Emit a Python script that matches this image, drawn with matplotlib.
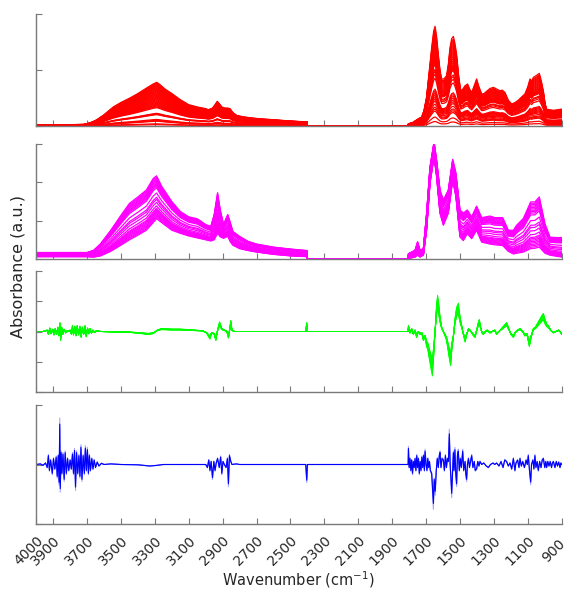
import numpy as np
import matplotlib
matplotlib.use("Agg")
import matplotlib.pyplot as plt
from matplotlib.transforms import ScaledTranslation

# ---------------- data ----------------
x_ticks = [4000, 3900, 3700, 3500, 3300, 3100, 2900, 2700, 2500, 2300, 2100, 1900, 1700, 1500, 1300, 1100, 900]
x_ticklabels = [str(t) for t in x_ticks]

# Panel 1: raw absorbance, highest spectrum (template) + per-sample relative intensities
red_wn = [4000, 3900, 3800, 3720, 3700, 3670, 3643, 3600, 3545, 3500, 3447, 3400, 3348, 3310, 3289, 3270,
          3240, 3200, 3150, 3100, 3050, 3000, 2985, 2960, 2945, 2932, 2920, 2905, 2887, 2870, 2857, 2840,
          2818, 2780, 2720, 2660, 2600, 2550, 2500, 2450, 2402, 2400, 1806, 1804, 1780, 1760, 1740, 1726,
          1712, 1697, 1682, 1667, 1655, 1647, 1638, 1628, 1618, 1608, 1595, 1579, 1568, 1559, 1549, 1539,
          1530, 1520, 1508, 1496, 1483, 1470, 1455, 1443, 1431, 1416, 1402, 1388, 1372, 1358, 1343, 1323,
          1303, 1284, 1264, 1250, 1235, 1215, 1195, 1175, 1156, 1136, 1117, 1100, 1087, 1077, 1067, 1050,
          1032, 1020, 1008, 998, 989, 970, 949, 925, 904, 900]
red_top = [0.012, 0.012, 0.012, 0.014, 0.02, 0.035, 0.055, 0.10, 0.17, 0.21, 0.25, 0.29, 0.34, 0.375, 0.39, 0.37,
           0.33, 0.29, 0.235, 0.19, 0.17, 0.155, 0.145, 0.16, 0.19, 0.22, 0.20, 0.17, 0.16, 0.16, 0.155, 0.12,
           0.095, 0.082, 0.07, 0.062, 0.056, 0.05, 0.045, 0.04, 0.038, 0.0, 0.0, 0.02, 0.03, 0.05, 0.07, 0.08,
           0.14, 0.26, 0.48, 0.70, 0.85, 0.89, 0.80, 0.64, 0.50, 0.42, 0.42, 0.45, 0.56, 0.70, 0.78, 0.80,
           0.74, 0.64, 0.45, 0.315, 0.33, 0.36, 0.375, 0.33, 0.30, 0.36, 0.42, 0.35, 0.286, 0.29, 0.31, 0.335,
           0.345, 0.33, 0.315, 0.32, 0.30, 0.23, 0.196, 0.21, 0.23, 0.26, 0.286, 0.35, 0.42, 0.40, 0.435, 0.45,
           0.47, 0.40, 0.31, 0.20, 0.15, 0.145, 0.14, 0.145, 0.15, 0.15]
red_rel_oh = [1.00, 0.98, 0.96, 0.94, 0.92, 0.90, 0.88, 0.86, 0.84, 0.82, 0.80, 0.78, 0.76, 0.74, 0.72, 0.70,
              0.68, 0.66, 0.64, 0.62, 0.60, 0.58, 0.56, 0.54, 0.52, 0.50, 0.48, 0.46, 0.44, 0.42,
              0.29, 0.28, 0.27, 0.26, 0.15, 0.13, 0.12, 0.11, 0.05, 0.03]
red_rel_fp = [1.00, 0.97, 0.95, 0.93, 0.91, 0.89, 0.87, 0.85, 0.83, 0.81, 0.79, 0.77, 0.75, 0.73, 0.71, 0.70,
              0.68, 0.67, 0.66, 0.65, 0.64, 0.63, 0.62, 0.57, 0.55, 0.52, 0.48, 0.37, 0.35, 0.33,
              0.31, 0.29, 0.27, 0.25, 0.22, 0.19, 0.17, 0.15, 0.09, 0.045]

# Panel 2: normalised spectra, upper and lower envelope + per-sample position inside the band
mag_wn = [4000, 3700, 3660, 3620, 3560, 3500, 3450, 3400, 3350, 3310, 3290, 3260, 3200, 3150, 3100, 3050,
          3000, 2970, 2950, 2930, 2915, 2895, 2870, 2855, 2840, 2800, 2750, 2700, 2600, 2500, 2402, 2400,
          1806, 1804, 1765, 1750, 1736, 1716, 1697, 1677, 1653, 1638, 1618, 1598, 1569, 1543, 1524, 1500,
          1480, 1457, 1431, 1402, 1372, 1323, 1294, 1248, 1215, 1185, 1166, 1126, 1083, 1058, 1032, 999,
          969, 930, 900]
mag_hi = [0.17, 0.17, 0.23, 0.40, 0.75, 1.14, 1.45, 1.62, 1.80, 2.10, 2.17, 1.90, 1.50, 1.24, 1.10, 1.05,
          0.90, 0.85, 1.16, 1.73, 1.30, 0.90, 1.16, 0.95, 0.72, 0.59, 0.46, 0.39, 0.31, 0.26, 0.22, 0.0,
          0.0, 0.14, 0.23, 0.45, 0.23, 0.27, 1.19, 2.40, 3.06, 2.58, 1.80, 1.54, 1.80, 2.60, 2.24, 1.28,
          1.20, 1.28, 1.10, 1.38, 1.08, 1.12, 1.08, 1.08, 0.75, 0.75, 0.88, 1.06, 1.49, 1.49, 1.62, 0.92,
          0.57, 0.56, 0.56]
mag_lo = [0.06, 0.06, 0.05, 0.08, 0.20, 0.36, 0.50, 0.62, 0.75, 0.95, 1.05, 0.95, 0.75, 0.67, 0.60, 0.55,
          0.50, 0.47, 0.50, 0.67, 0.58, 0.54, 0.59, 0.45, 0.36, 0.27, 0.22, 0.18, 0.12, 0.08, 0.06, 0.0,
          0.0, 0.01, 0.05, 0.10, 0.05, 0.10, 0.75, 1.97, 2.67, 2.15, 1.19, 0.88, 1.19, 2.06, 1.62, 0.57,
          0.48, 0.66, 0.53, 0.75, 0.44, 0.39, 0.37, 0.35, 0.20, 0.13, 0.15, 0.18, 0.27, 0.28, 0.31, 0.15,
          0.10, 0.07, 0.05]
mag_pos = [1.0, 0.97, 0.94, 0.91, 0.88, 0.85, 0.82, 0.79, 0.76, 0.72, 0.60, 0.50, 0.45, 0.38, 0.30,
           0.24, 0.21, 0.18, 0.15, 0.12, 0.09, 0.06, 0.03, 0.0]

# Panel 3: first derivative (green)
green_wn = [4000, 3960, 3935, 3928, 3920, 3912, 3903, 3895, 3888, 3880, 3872, 3866, 3860, 3856, 3850, 3843,
            3835, 3826, 3818, 3810, 3800, 3792, 3786, 3780, 3772, 3765, 3758, 3750, 3742, 3735, 3727, 3720,
            3712, 3705, 3697, 3690, 3682, 3674, 3665, 3655, 3645, 3620, 3550, 3450, 3390, 3340, 3310, 3285,
            3260, 3200, 3150, 3100, 3060, 3020, 2995, 2975, 2965, 2950, 2940, 2930, 2918, 2905, 2890, 2875,
            2866, 2858, 2852, 2845, 2830, 2700, 2410, 2404, 2400, 1806, 1804, 1795, 1785, 1775, 1765, 1756,
            1746, 1736, 1726, 1716, 1706, 1697, 1690, 1681, 1672, 1663, 1655, 1647, 1638, 1632, 1625, 1618,
            1608, 1598, 1588, 1579, 1568, 1560, 1555, 1548, 1539, 1530, 1520, 1510, 1500, 1490, 1480, 1470,
            1460, 1450, 1441, 1430, 1420, 1411, 1400, 1392, 1386, 1378, 1370, 1362, 1350, 1340, 1323, 1310,
            1295, 1284, 1270, 1255, 1240, 1225, 1212, 1200, 1185, 1175, 1160, 1146, 1130, 1117, 1105, 1091,
            1080, 1067, 1055, 1040, 1025, 1015, 1008, 998, 988, 979, 965, 949, 935, 920, 910, 900]
green_val = [0.0, 0.0, 0.05, -0.1, 0.12, -0.08, 0.08, -0.12, 0.1, -0.1, 0.15, -0.15, 0.3, -0.3, 0.15, -0.1,
             0.08, -0.05, 0.03, 0.0, 0.05, -0.1, 0.2, -0.12, 0.18, -0.15, 0.2, -0.12, 0.18, -0.2, 0.15, -0.1,
             0.2, -0.18, 0.12, -0.08, 0.1, -0.06, 0.05, -0.04, 0.03, 0.0, -0.01, -0.03, -0.06, -0.1, -0.07, 0.05,
             0.1, 0.08, 0.08, 0.06, 0.04, 0.03, -0.05, -0.25, -0.05, -0.1, -0.3, 0.05, 0.32, 0.1, 0.05, 0.0,
             -0.22, 0.1, 0.37, 0.05, 0.0, 0.0, 0.0, 0.3, 0.0, 0.0, 0.2, -0.05, 0.1, -0.1, 0.05, -0.2,
             0.0, -0.1, -0.05, -0.3, -0.2, -0.5, -0.6, -0.9, -1.2, -1.47, -0.8, 0.0, 0.9, 1.2, 0.9, 0.5,
             0.15, 0.0, -0.15, -0.3, -0.7, -1.0, -1.13, -0.6, -0.2, 0.4, 0.8, 0.94, 0.5, 0.2, -0.1, -0.35,
             -0.1, 0.1, 0.05, -0.05, -0.15, -0.2, 0.1, 0.3, 0.4, 0.15, -0.05, -0.1, 0.0, 0.05, -0.05, 0.0,
             0.05, -0.1, 0.0, 0.1, 0.2, 0.3, 0.1, -0.1, -0.2, -0.05, 0.05, 0.1, 0.0, -0.15, -0.1, -0.5,
             -0.2, 0.1, 0.15, 0.3, 0.45, 0.55, 0.6, 0.4, 0.25, 0.2, 0.05, -0.05, 0.0, 0.05, 0.0, -0.1]
green_rel = [1.0, 0.95, 0.9, 0.86, 0.82, 0.78, 0.74, 0.7, 0.66, 0.62]

# Panel 4: second derivative (blue)
blue_wn = [4000, 3975, 3960, 3945, 3935, 3928, 3922, 3915, 3905, 3898, 3890, 3882, 3876, 3870, 3865, 3861,
           3858, 3853, 3848, 3842, 3835, 3829, 3822, 3815, 3808, 3800, 3793, 3786, 3780, 3774, 3768, 3762,
           3755, 3748, 3742, 3736, 3730, 3723, 3716, 3710, 3704, 3698, 3692, 3686, 3680, 3672, 3665, 3658,
           3650, 3640, 3630, 3615, 3600, 3560, 3500, 3400, 3330, 3290, 3250, 3100, 3000, 2990, 2982, 2975,
           2968, 2960, 2952, 2945, 2938, 2930, 2920, 2912, 2905, 2898, 2890, 2880, 2872, 2866, 2860, 2852,
           2845, 2820, 2800, 2600, 2410, 2404, 2400, 1806, 1804, 1800, 1795, 1790, 1785, 1780, 1775, 1770,
           1765, 1760, 1755, 1750, 1745, 1740, 1735, 1730, 1725, 1720, 1715, 1710, 1706, 1700, 1695, 1690,
           1685, 1680, 1675, 1667, 1661, 1657, 1652, 1646, 1640, 1634, 1628, 1622, 1618, 1612, 1606, 1598,
           1592, 1586, 1580, 1574, 1568, 1563, 1558, 1553, 1549, 1544, 1539, 1535, 1530, 1525, 1520, 1515,
           1510, 1504, 1498, 1492, 1484, 1478, 1470, 1466, 1461, 1456, 1450, 1444, 1438, 1431, 1424, 1416,
           1410, 1402, 1395, 1388, 1382, 1372, 1360, 1345, 1333, 1320, 1305, 1295, 1284, 1270, 1258, 1246,
           1236, 1225, 1215, 1205, 1195, 1185, 1176, 1170, 1160, 1152, 1146, 1138, 1130, 1120, 1110, 1103,
           1097, 1090, 1083, 1078, 1070, 1064, 1058, 1052, 1045, 1038, 1030, 1022, 1015, 1008, 1000, 994,
           989, 982, 975, 968, 960, 955, 949, 940, 932, 925, 918, 910, 905, 900]
blue_val = [0.0, 0.02, -0.03, 0.05, -0.1, 0.3, -0.2, 0.15, -0.3, 0.2, -0.15, 0.25, -0.4, 0.3, -0.6, 1.36,
            -0.81, 0.4, -0.3, 0.35, -0.5, 0.4, -0.3, 0.2, -0.2, 0.15, -0.15, 0.35, -0.3, 0.47, -0.76, 0.4,
            -0.3, 0.3, -0.4, 0.58, -0.5, 0.3, -0.3, 0.55, -0.2, 0.5, -0.3, 0.3, -0.2, 0.2, -0.15, 0.15,
            -0.1, 0.08, -0.05, 0.04, 0.0, 0.02, 0.0, -0.01, -0.05, -0.03, 0.0, 0.0, 0.0, -0.1, 0.15, -0.2,
            0.1, -0.44, 0.1, -0.2, 0.05, 0.2, -0.1, 0.25, -0.3, 0.1, 0.0, -0.1, 0.2, -0.65, 0.3, 0.1,
            0.0, 0.02, 0.0, 0.0, 0.0, -0.53, 0.0, 0.0, 0.53, -0.1, 0.2, -0.2, 0.15, -0.3, 0.1, -0.1,
            0.2, -0.2, 0.3, -0.1, 0.2, -0.3, 0.1, -0.2, 0.25, -0.1, 0.3, -0.2, 0.45, 0.0, -0.2, 0.2,
            -0.1, 0.1, -0.2, -0.3, -0.87, -1.31, -0.5, -0.9, -0.2, 0.2, -0.1, 0.3, 0.4, -0.1, 0.2, 0.15,
            -0.2, 0.3, -0.1, 0.2, 0.1, 1.03, 0.0, -0.5, -0.97, -0.3, 0.4, -0.2, 0.5, -0.3, -0.65, 0.3,
            0.45, -0.2, 0.2, -0.1, 0.45, -0.2, 0.1, -0.3, -0.5, 0.0, 0.2, -0.1, 0.1, 0.3, -0.1, 0.1,
            -0.2, -0.15, 0.1, -0.05, 0.1, 0.0, 0.05, -0.05, -0.1, 0.0, 0.05, 0.0, 0.05, -0.05, 0.1, -0.1,
            0.15, 0.1, -0.05, 0.05, -0.15, 0.2, -0.2, 0.05, 0.15, -0.1, 0.2, -0.05, 0.1, -0.1, 0.15, 0.0,
            0.3, -0.2, -0.59, 0.0, 0.15, -0.15, 0.3, -0.1, 0.1, -0.2, 0.1, -0.1, 0.15, 0.2, -0.1, 0.1,
            -0.1, 0.1, -0.05, 0.1, -0.1, 0.05, 0.1, -0.1, 0.1, -0.05, 0.08, -0.1, 0.05, 0.0]
blue_rel = [1.15, 0.9, 1.0]

assert len(red_wn) == len(red_top)
assert len(mag_wn) == len(mag_hi) == len(mag_lo)
assert len(green_wn) == len(green_val)
assert len(blue_wn) == len(blue_val)

# ---------------- figure ----------------
W, H = 571, 589
fig = plt.figure(figsize=(W / 100, H / 100), dpi=100)
spine_c = "#7a7a7a"
txt_c = "#262626"

def px_axes(top, bottom, left=36.2, right=561.7):
    return fig.add_axes([left / W, 1 - bottom / H, (right - left) / W, (bottom - top) / H])

axes = [px_axes(14, 126), px_axes(144, 259), px_axes(271, 392), px_axes(405, 524)]

# panel 1
ax = axes[0]
rw = np.array(red_wn)
rt = np.array(red_top)
for f_oh, f_fp in zip(red_rel_oh, red_rel_fp):
    ax.plot(rw, rt * np.where(rw > 2000, f_oh, f_fp), color="#ff0000", lw=0.9)
ax.set_ylim(0, 1)
ax.set_yticks([0, 0.5, 1])

# panel 2
ax = axes[1]
mh = np.array(mag_hi)
ml = np.array(mag_lo)
for p in mag_pos:
    ax.plot(mag_wn, ml + p * (mh - ml), color="#ff00ff", lw=0.9)
ax.set_ylim(0, 3)
ax.set_yticks([0, 1, 2, 3])

# panel 3
ax = axes[2]
gv = np.array(green_val)
for r in green_rel:
    ax.plot(green_wn, gv * r, color="#00ff00", lw=0.7)
ax.set_ylim(-2, 2)
ax.set_yticks([-2, -1, 0, 1, 2])

# panel 4
ax = axes[3]
bv = np.array(blue_val)
for i, r in enumerate(blue_rel):
    ax.plot(blue_wn, bv * r, color="#0000ff", lw=0.8, alpha=1.0 if i == len(blue_rel) - 1 else 0.35)
ax.set_ylim(-2, 2)
ax.set_yticks([-2, 0, 2])

for i, ax in enumerate(axes):
    ax.set_xlim(4000, 900)
    ax.set_xticks(x_ticks)
    for s in ("top", "right"):
        ax.spines[s].set_visible(False)
    for s in ("left", "bottom"):
        ax.spines[s].set_color(spine_c)
        ax.spines[s].set_linewidth(1.0)
    ax.tick_params(direction="in", length=4.5, width=0.8, color=spine_c, labelleft=False,
                   labelbottom=(i == 3), labelsize=10, labelcolor=txt_c, pad=0)
    ax.set_facecolor("none")

axes[3].set_xticklabels(x_ticklabels)
shift = ScaledTranslation(-7.7 / 100, -27 / 100, fig.dpi_scale_trans)
for lab in axes[3].get_xticklabels():
    lab.set_rotation(45)
    lab.set_rotation_mode("anchor")
    lab.set_ha("center")
    lab.set_va("center")
    lab.set_transform(lab.get_transform() + shift)

fig.text(298 / W, 1 - 580 / H, "Wavenumber (cm$^{-1}$)", ha="center", va="center", fontsize=10.5, color=txt_c)
fig.text(18 / W, 1 - 266 / H, "Absorbance (a.u.)", ha="center", va="center", rotation=90, fontsize=11.5, color=txt_c)

fig.savefig("out.png", dpi=100)
